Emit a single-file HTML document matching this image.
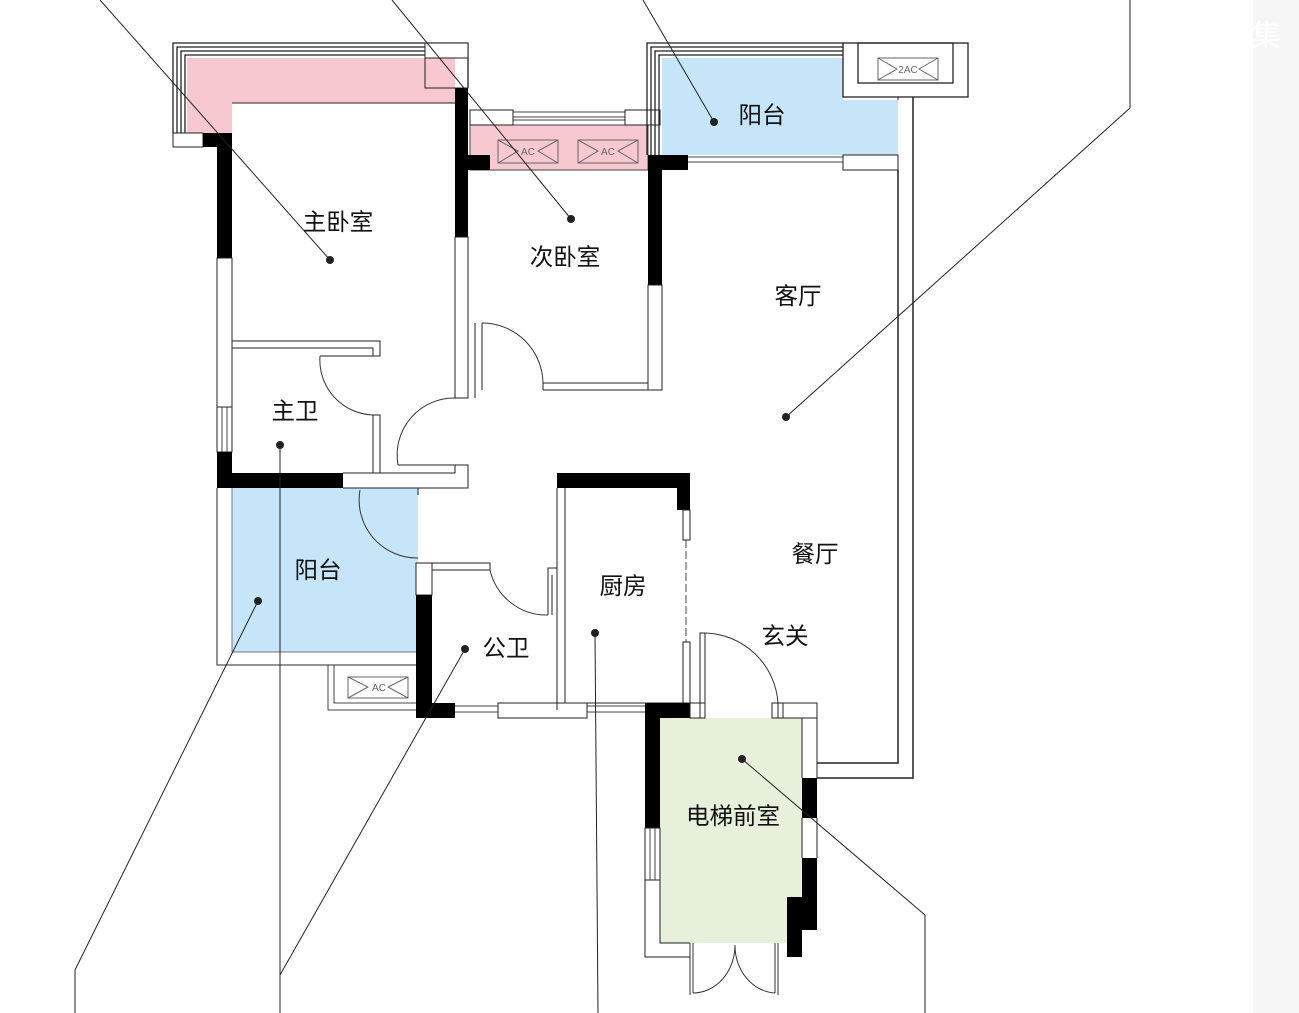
<!DOCTYPE html>
<html><head><meta charset="utf-8"><style>
html,body{margin:0;padding:0;background:#fff;width:1299px;height:1013px;overflow:hidden}
svg{display:block}
text{font-family:"Liberation Sans","Noto Sans CJK SC",sans-serif;font-size:23.5px;fill:#111;text-anchor:middle}
</style></head><body>
<svg width="1299" height="1013" viewBox="0 0 1299 1013">
<rect x="1253" y="0" width="46" height="1013" fill="#f6f6f6"/>
<g fill="none" stroke="#222" stroke-width="1.3">
<path d="M173,133 V43 H468 V88" /><path d="M177,133 V47 H425"/><path d="M181,133 V51 H425"/><path d="M185,133 V55 H425"/>
</g>
<rect x="187" y="58" width="268" height="45" fill="#f7c8cf"/>
<rect x="187" y="103" width="45" height="30" fill="#f7c8cf"/>
<rect x="425" y="43" width="43" height="15" fill="#fff" stroke="#222"/>
<rect x="425" y="43" width="43" height="45" fill="none" stroke="#222"/>
<rect x="173" y="133" width="30" height="14" fill="#fff" stroke="#222"/>
<rect x="470" y="125" width="178" height="45" fill="#f7c8cf" stroke="#444"/>
<rect x="470" y="112" width="178" height="13" fill="#fff" stroke="#444"/>
<line x1="513" y1="117" x2="625" y2="117" stroke="#444"/><line x1="513" y1="120" x2="625" y2="120" stroke="#444"/>
<rect x="470" y="110" width="43" height="15" fill="#fff" stroke="#222"/>
<rect x="625" y="110" width="35" height="15" fill="#fff" stroke="#222"/>
<g fill="none" stroke="#666" stroke-width="1">
<rect x="498" y="140" width="60" height="23"/><path d="M498,140 L518,151 L498,163 M558,140 L538,151 L558,163"/>
<rect x="578" y="140" width="60" height="23"/><path d="M578,140 L598,151 L578,163 M638,140 L618,151 L638,163"/>
</g>
<text x="528" y="155" style="font-size:10px;fill:#666">AC</text>
<text x="608" y="155" style="font-size:10px;fill:#666">AC</text>
<g fill="none" stroke="#222" stroke-width="1.3">
<path d="M647,155 V43 H843"/><path d="M651,155 V47 H843"/><path d="M655,155 V51 H843"/><path d="M659,155 V55 H843"/>
</g>
<path d="M662,58 H843 V100 H898 V155 H662 Z" fill="#c7e5f8"/>
<rect x="843" y="43" width="125" height="54" fill="none" stroke="#222" stroke-width="1.3"/>
<rect x="858" y="43" width="95" height="40" fill="none" stroke="#222" stroke-width="1.3"/>
<rect x="878" y="58" width="60" height="22" fill="none" stroke="#666"/>
<path d="M878,58 L897,69 L878,80 M938,58 L919,69 L938,80" fill="none" stroke="#666"/>
<text x="908" y="73" style="font-size:10px;fill:#666">2AC</text>
<line x1="662" y1="157" x2="843" y2="157" stroke="#444"/><line x1="662" y1="162" x2="843" y2="162" stroke="#444"/>
<rect x="843" y="155" width="55" height="15" fill="#fff" stroke="#222"/>
<path d="M898,170 V763 H817" fill="none" stroke="#222" stroke-width="1.5"/>
<path d="M913,97 V778 H817" fill="none" stroke="#222" stroke-width="1.5"/>
<path d="M898,97 V100" stroke="#222"/>
<rect x="203" y="133" width="29" height="14" fill="#000"/>
<rect x="217" y="133" width="15" height="125" fill="#000"/>
<rect x="217" y="258" width="15" height="149" fill="#fff" stroke="#222"/>
<rect x="217" y="407" width="15" height="45" fill="#fff" stroke="#222"/>
<line x1="222" y1="407" x2="222" y2="452" stroke="#444"/><line x1="227" y1="407" x2="227" y2="452" stroke="#444"/>
<rect x="217" y="452" width="15" height="36" fill="#000"/>
<rect x="217" y="473" width="126" height="15" fill="#000"/>
<path d="M232,103 H455" stroke="#222" fill="none"/>
<rect x="455" y="88" width="13" height="149" fill="#000"/>
<rect x="455" y="237" width="13" height="161" fill="#fff" stroke="#222"/>
<rect x="455" y="155" width="35" height="15" fill="#000"/>
<path d="M232,341 H380 V356 H376 M232,348 H373 V356" fill="none" stroke="#222"/>
<path d="M320,356 H376" stroke="#222"/>
<path d="M373,415 V473 H380 V415 Z" fill="#fff" stroke="#222"/>
<path d="M320,356 A55,55 0 0 0 373,415" fill="none" stroke="#333"/>
<path d="M343,473 H455 V465 H468 V488 H343" fill="none" stroke="#222"/>
<path d="M398,465 A57,57 0 0 1 455,398" fill="none" stroke="#333"/>
<path d="M398,465 H455" stroke="#222"/>
<rect x="648" y="155" width="40" height="15" fill="#000"/>
<rect x="648" y="155" width="14" height="130" fill="#000"/>
<rect x="648" y="285" width="14" height="105" fill="#fff" stroke="#222"/>
<path d="M543,383 H648 M543,390 H662" stroke="#222"/><path d="M543,383 V390" stroke="#222"/>
<path d="M475,323 V398 M482,323 V390" stroke="#222"/>
<path d="M482,323 A61,61 0 0 1 543,383" fill="none" stroke="#333"/>
<rect x="232" y="488" width="186" height="164" fill="#c7e5f8"/>
<path d="M217,488 V665 H416" fill="none" stroke="#555" stroke-width="1.3"/>
<path d="M232,488 V652 H418" fill="none" stroke="#777"/>
<path d="M343,488 H418 V495" fill="none" stroke="#222"/>
<path d="M360,490 A58,58 0 0 0 418,558" fill="none" stroke="#333"/>
<path d="M328,665 V710 H416 M334,665 V703 H416" fill="none" stroke="#444"/>
<rect x="348" y="677" width="60" height="21" fill="none" stroke="#666"/>
<path d="M348,677 L368,687 L348,698 M408,677 L388,687 L408,698" fill="none" stroke="#666"/>
<text x="379" y="691" style="font-size:10px;fill:#666">AC</text>
<rect x="416" y="563" width="16" height="32" fill="#fff" stroke="#222"/>
<rect x="416" y="595" width="16" height="123" fill="#000"/>
<rect x="416" y="703" width="39" height="15" fill="#000"/>
<path d="M432,563 H490 V570 H432" fill="none" stroke="#222"/>
<path d="M490,570 A58,58 0 0 0 548,615" fill="none" stroke="#333"/>
<path d="M548,615 V568 H557 M552,615 V575" fill="none" stroke="#222"/>
<path d="M455,706 H498 M455,712 H498" stroke="#444"/>
<rect x="498" y="703" width="89" height="15" fill="#fff" stroke="#222"/>
<path d="M587,706 H645 M587,712 H645" stroke="#444"/>
<path d="M557,488 V703 M565,488 V703 H690" fill="none" stroke="#222"/>
<rect x="557" y="473" width="133" height="15" fill="#000"/>
<rect x="677" y="473" width="13" height="37" fill="#000"/>
<rect x="683" y="510" width="7" height="30" fill="#fff" stroke="#222"/>
<path d="M686,540 V642" stroke="#444" stroke-dasharray="8,3"/>
<rect x="683" y="642" width="7" height="61" fill="#fff" stroke="#222"/>
<path d="M548,703 H557 V710" stroke="#222" fill="none"/>
<rect x="660" y="718" width="142" height="225" fill="#e7f0da"/>
<rect x="645" y="703" width="45" height="15" fill="#000"/>
<rect x="645" y="703" width="15" height="125" fill="#000"/>
<rect x="645" y="828" width="15" height="52" fill="#fff" stroke="#222"/>
<path d="M650,828 V880 M655,828 V880" stroke="#444"/>
<path d="M645,880 V957 H690 M660,880 V943 H690" fill="none" stroke="#222"/>
<rect x="690" y="703" width="15" height="15" fill="#fff" stroke="#222"/>
<path d="M700,718 V633 H705 V718" fill="none" stroke="#222"/>
<path d="M705,633 A75,75 0 0 1 778,703" fill="none" stroke="#333"/>
<rect x="772" y="703" width="45" height="15" fill="#fff" stroke="#222"/>
<path d="M778,703 V718 M783,703 V718" stroke="#222"/>
<path d="M802,718 V778 M817,703 V778" stroke="#222"/>
<rect x="802" y="778" width="15" height="40" fill="#000"/>
<path d="M802,818 V858 M817,818 V858" stroke="#222"/>
<rect x="802" y="858" width="15" height="72" fill="#000"/>
<rect x="787" y="897" width="15" height="60" fill="#000"/>
<path d="M690,943 V995 M693,943 V993 M778,943 V995 M775,943 V993" stroke="#333" fill="none"/>
<path d="M693,993 A42,48 0 0 0 735,945 A42,48 0 0 0 775,993" fill="none" stroke="#333"/>
<g stroke="#222" stroke-width="1" fill="none">
<path d="M100,0 L330,260"/><path d="M392,0 L571,219"/><path d="M643,0 L714,122"/>
<path d="M1130,0 V108 L786,417"/>
<path d="M280,445 V1013"/><path d="M258,601 L75,970 V1013"/>
<path d="M465,649 L280,975"/><path d="M595,633 L598,1013"/>
<path d="M742,759 L925,915 V1013"/>
</g>
<g fill="#222">
<circle cx="330" cy="260" r="4"/><circle cx="571" cy="219" r="4"/><circle cx="714" cy="122" r="4"/>
<circle cx="786" cy="417" r="4"/><circle cx="280" cy="445" r="4"/><circle cx="258" cy="601" r="4"/>
<circle cx="465" cy="649" r="4"/><circle cx="595" cy="633" r="4"/><circle cx="742" cy="759" r="4"/>
</g>
<text x="338" y="230">主卧室</text>
<text x="565" y="265">次卧室</text>
<text x="762" y="123">阳台</text>
<text x="798" y="304">客厅</text>
<text x="295" y="419">主卫</text>
<text x="318" y="578">阳台</text>
<text x="815" y="562">餐厅</text>
<text x="623" y="594">厨房</text>
<text x="785" y="644">玄关</text>
<text x="506" y="656">公卫</text>
<text x="733" y="824">电梯前室</text>
<text x="1266" y="46" style="fill:#fff;font-size:30px">集</text>
</svg>
</body></html>
